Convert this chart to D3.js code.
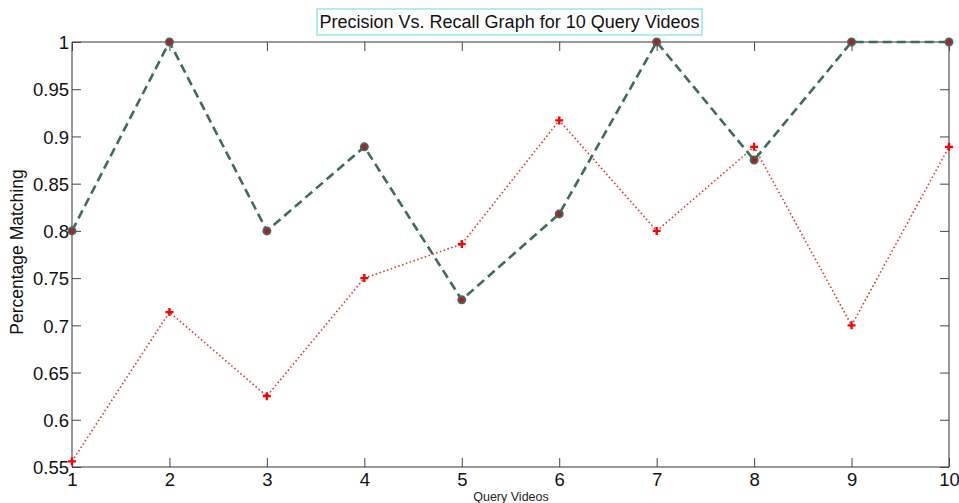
<!DOCTYPE html>
<html><head><meta charset="utf-8">
<script src="https://cdn.jsdelivr.net/npm/d3@7"></script>
<style>body{margin:0;background:#fff}svg{display:block;font-family:Arial,"Liberation Sans",sans-serif}</style>
</head><body><svg id="c" width="959" height="503"></svg>
<script>
const queries = [1,2,3,4,5,6,7,8,9,10];
const precision = [0.8,1.0,0.8,0.889,0.727,0.818,1.0,0.875,1.0,1.0];
const recall = [0.556,0.714,0.625,0.75,0.786,0.917,0.8,0.889,0.7,0.889];
const yTicks = [0.55,0.6,0.65,0.7,0.75,0.8,0.85,0.9,0.95,1];
const xTicks = [1,2,3,4,5,6,7,8,9,10];
const titleText = "Precision Vs. Recall Graph for 10 Query Videos";
const xLabel = "Query Videos";
const yLabel = "Percentage Matching";

const svg = d3.select("#c");
const L=72, R=949, T=42, B=467;
const x = d3.scaleLinear().domain([1,10]).range([L,R]);
const y = d3.scaleLinear().domain([0.55,1]).range([B,T]);
const fmt = d => String(+d.toFixed(2));
const FF = "Arial, 'Liberation Sans', sans-serif";

// axes box
const g = svg.append("g");
g.append("line").attr("x1",L).attr("x2",R).attr("y1",T).attr("y2",T).attr("stroke","#777").attr("stroke-width",1.3);
g.append("line").attr("x1",L).attr("x2",R).attr("y1",B).attr("y2",B).attr("stroke","#777").attr("stroke-width",1.3);
g.append("line").attr("x1",L).attr("x2",L).attr("y1",T).attr("y2",B).attr("stroke","#444").attr("stroke-width",1.1);
g.append("line").attr("x1",R).attr("x2",R).attr("y1",T).attr("y2",B).attr("stroke","#444").attr("stroke-width",1.1);

const tl = 9;
const axB = d3.axisBottom(x).tickValues(xTicks).tickSize(-tl).tickFormat(d=>d);
const axT = d3.axisTop(x).tickValues(xTicks).tickSize(-tl).tickFormat("");
const axL = d3.axisLeft(y).tickValues(yTicks).tickSize(-tl).tickFormat(fmt);
const axR = d3.axisRight(y).tickValues(yTicks).tickSize(-tl).tickFormat("");
function style(sel){sel.select(".domain").remove();sel.selectAll(".tick line").attr("stroke","#444");sel.selectAll("text").attr("fill","#111").style("font-size","18.5px").style("font-family",FF);}
svg.append("g").attr("transform",`translate(0,${B})`).call(axB).call(style).selectAll("text").attr("dy","0").attr("y",19);
svg.append("g").attr("transform",`translate(0,${T})`).call(axT).call(style);
svg.append("g").attr("transform",`translate(${L},0)`).call(axL).call(style).selectAll("text").attr("x",-3).attr("dy","0.36em");
svg.append("g").attr("transform",`translate(${R},0)`).call(axR).call(style);

// lines
const lineGen = d3.line().x((d,i)=>x(queries[i])).y(d=>y(d));
svg.append("path").attr("d",lineGen(recall)).attr("fill","none").attr("stroke","#e03030").attr("stroke-width",1.6).attr("stroke-dasharray","1.5,2.5");
svg.append("path").attr("d",lineGen(precision)).attr("fill","none").attr("stroke","#3f6b5c").attr("stroke-width",2.6).attr("stroke-dasharray","9,5");

// markers
svg.append("g").selectAll("circle").data(precision).join("circle")
  .attr("cx",(d,i)=>x(queries[i])).attr("cy",d=>y(d)).attr("r",3.6)
  .attr("fill","#b02020").attr("stroke","#3f6b5c").attr("stroke-width",1.8);
svg.append("g").selectAll("path").data(recall).join("path")
  .attr("d",(d,i)=>`M${x(queries[i])-4},${y(d)}h8M${x(queries[i])},${y(d)-4}v8`)
  .attr("stroke","#ff0000").attr("stroke-width",2.4).attr("fill","none");

// title
svg.append("rect").attr("x",317).attr("y",9).attr("width",385).attr("height",26).attr("fill","#fff").attr("stroke","#7fe0e0").attr("stroke-width",1.2);
svg.append("text").attr("x",509.5).attr("y",28).attr("text-anchor","middle").style("font-size","18px").style("font-family",FF).attr("fill","#111").text(titleText);

svg.append("text").attr("x",511).attr("y",501).attr("text-anchor","middle").style("font-size","12.5px").style("font-family",FF).attr("fill","#222").text(xLabel);
svg.append("text").attr("transform","translate(23,252) rotate(-90)").attr("text-anchor","middle").style("font-size","17.5px").style("font-family",FF).attr("fill","#111").text(yLabel);
</script></body></html>
